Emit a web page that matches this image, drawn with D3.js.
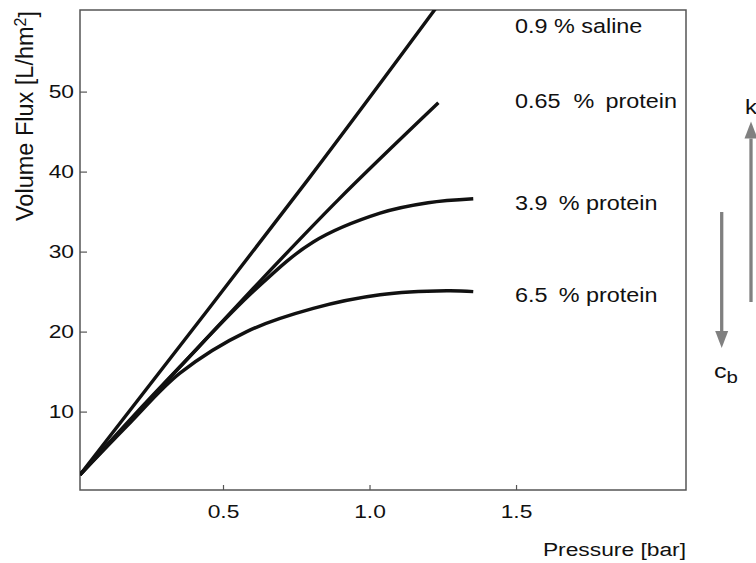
<!DOCTYPE html>
<html>
<head>
<meta charset="utf-8">
<script src="https://cdn.jsdelivr.net/npm/d3@7"></script>
<style>
  html, body { margin: 0; padding: 0; background: #fff; }
  svg { display: block; font-family: "Liberation Sans", Arial, sans-serif; }
  text { white-space: pre; }
</style>
</head>
<body>
<svg id="chart" width="756" height="563"></svg>
<script>
// Volume flux vs. transmembrane pressure for saline and protein solutions
const seriesNames = ["0.9 % saline", "0.65\u00a0 % \u2009protein", "3.9\u2009 % protein", "6.5\u2009 % protein"];

// [pressure (bar), flux (L/hm^2)]
const saline   = [[0.012, 2.1], [0.79, 39.0], [1.25, 61.6]];
const prot065  = [[0.012, 2.1], [0.603, 25.4], [0.894, 36.5], [1.235, 48.6]];
const prot39   = [[0.012, 2.1], [0.183, 9.0], [0.353, 15.6], [0.603, 25.0], [0.808, 31.2], [1.036, 34.8], [1.20, 36.1], [1.354, 36.6]];
const prot65   = [[0.012, 2.1], [0.183, 8.6], [0.353, 14.8], [0.581, 20.0], [0.808, 22.9], [1.036, 24.6], [1.264, 25.1], [1.354, 25.0]];
const seriesData = [saline, prot065, prot39, prot65];

// flux level at which each series label sits
const labelFlux = [58.2, 48.8, 36.0, 24.6];

const xTicks = [0.5, 1.0, 1.5];
const yTicks = [10, 20, 30, 40, 50];

const svg = d3.select("#chart");
const pLeft = 80, pRight = 686, pTop = 10, pBottom = 490;
const stretch = 1.2;   // lettering is set slightly wide

const x = d3.scaleLinear().domain([0.012, 2.08]).range([pLeft, pRight]);
const y = d3.scaleLinear().domain([0.2, 60.2]).range([pBottom, pTop]);

svg.append("defs").append("clipPath").attr("id", "plotclip")
  .append("rect").attr("x", pLeft).attr("y", pTop)
  .attr("width", pRight - pLeft).attr("height", pBottom - pTop);

// axes with inward ticks
const gx = svg.append("g").attr("transform", `translate(0,${pBottom})`)
  .call(d3.axisBottom(x).tickValues(xTicks).tickFormat(d3.format(".1f"))
        .tickSizeInner(-5).tickSizeOuter(0).tickPadding(15));
const gy = svg.append("g").attr("transform", `translate(${pLeft},0)`)
  .call(d3.axisLeft(y).tickValues(yTicks).tickFormat(d3.format("d"))
        .tickSizeInner(-7).tickSizeOuter(0).tickPadding(5));
[gx, gy].forEach(g => {
  g.select(".domain").remove();
  g.selectAll(".tick line").attr("stroke", "#555").attr("stroke-width", 1.2);
  g.selectAll(".tick text").attr("fill", "#111").style("font-size", "19px")
    .style("font-family", "'Liberation Sans', Arial, sans-serif")
    .attr("transform", `scale(${stretch},1)`);
});

// frame
svg.append("rect").attr("x", pLeft).attr("y", pTop)
  .attr("width", pRight - pLeft).attr("height", pBottom - pTop)
  .attr("fill", "none").attr("stroke", "#555").attr("stroke-width", 1.5);

// curves
const line = d3.line().x(d => x(d[0])).y(d => y(d[1])).curve(d3.curveCatmullRom.alpha(0.5));
svg.append("g").attr("clip-path", "url(#plotclip)")
  .selectAll("path").data(seriesData).join("path")
  .attr("d", line)
  .attr("fill", "none").attr("stroke", "#111").attr("stroke-width", 3.4)
  .attr("stroke-linecap", "butt");

// helper for wide-set text
function wideText(px, py, size, anchor) {
  return svg.append("text")
    .attr("transform", `translate(${px},${py}) scale(${stretch},1)`)
    .attr("text-anchor", anchor || "start")
    .style("font-size", size + "px").attr("fill", "#111");
}

// series labels
seriesNames.forEach((name, i) => {
  wideText(515, y(labelFlux[i]), 19.5).attr("dy", "0.35em").text(name);
});

// axis titles
const yt = svg.append("text")
  .attr("transform", "translate(33,116) rotate(-90)")
  .attr("text-anchor", "middle")
  .style("font-size", "23.5px").attr("fill", "#111");
yt.append("tspan").text("Volume Flux [L/hm");
yt.append("tspan").attr("dy", "-0.45em").style("font-size", "16px").text("2");
yt.append("tspan").attr("dy", "0.45em").text("]");

wideText(pRight, 556, 19, "end").text("Pressure [bar]");

// trend arrows: bulk concentration c_b lowers flux, mass-transfer coefficient k raises it
const grey = "#808080";
function arrow(xc, y0, y1) {
  const dir = Math.sign(y1 - y0), headLen = 17, headHalf = 6.5;
  svg.append("line").attr("x1", xc).attr("x2", xc)
    .attr("y1", y0).attr("y2", y1 - dir * headLen)
    .attr("stroke", grey).attr("stroke-width", 3.3);
  svg.append("path")
    .attr("d", `M${xc - headHalf},${y1 - dir * headLen} L${xc + headHalf},${y1 - dir * headLen} L${xc},${y1} Z`)
    .attr("fill", grey);
}
arrow(721.7, 212, 348);
arrow(751, 302, 121.5);

const cb = wideText(714, 378, 21);
cb.append("tspan").text("c");
cb.append("tspan").attr("dy", "0.3em").style("font-size", "17px").text("b");

wideText(745, 114, 20).text("k");
</script>
</body>
</html>
